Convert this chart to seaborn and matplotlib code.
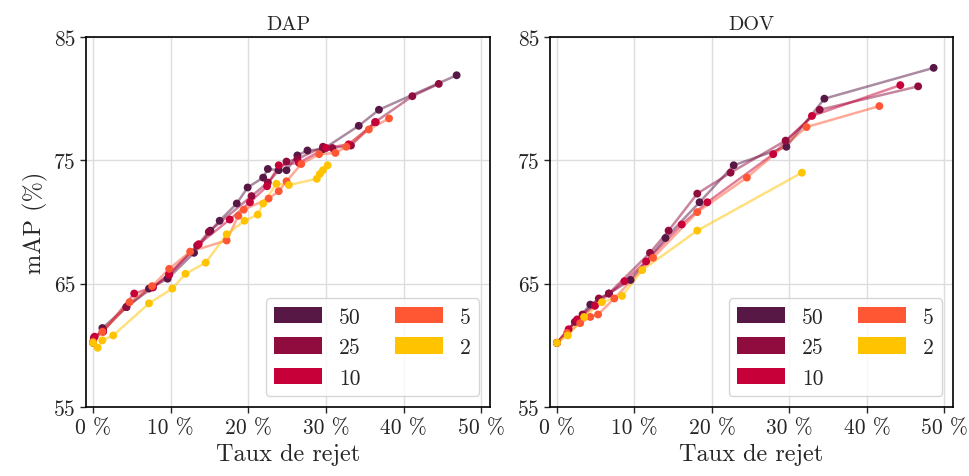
"""
Taux de rejet vs mAP pour DAP et DOV
"""

import matplotlib.pyplot as plt
import seaborn as sns
import pandas as pd
from matplotlib.patches import Patch

# Données (taux de rejet en %, mAP en %)
groupes = ['50', '25', '10', '5', '2']
couleurs = ['#581845', '#900C3F', '#C70039', '#FF5733', '#FFC300']

dap_x = {
    '50': [0, 1.2, 4.3, 7.2, 9.6, 13.0, 15.1, 16.3, 18.5, 19.9, 21.9, 22.5, 23.9, 24.9, 26.3, 27.6, 29.6, 34.2, 36.8, 46.8],
    '25': [0.1, 1.3, 4.3, 7.7, 9.8, 13.4, 14.9, 20.4, 22.5, 24.9, 26.3, 29.6, 30.8, 33.2, 36.3, 41.1, 44.5],
    '10': [0.2, 1.3, 5.3, 7.7, 9.8, 13.6, 17.6, 20.2, 22.4, 23.9, 26.5, 30.0, 32.9, 36.4],
    '5': [0, 1.2, 4.7, 7.6, 9.8, 12.5, 17.2, 18.7, 19.4, 22.6, 23.9, 24.9, 26.8, 29.1, 31.2, 32.6, 35.5, 38.1],
    '2': [0, 0.6, 1.2, 2.6, 7.2, 10.2, 11.9, 14.5, 17.2, 19.5, 21.2, 21.9, 23.6, 25.2, 28.8, 29.2, 29.6, 30.2],
}
dap_y = {
    '50': [60.2, 61.4, 63.1, 64.6, 65.4, 67.5, 69.3, 70.1, 71.5, 72.8, 73.6, 74.3, 74.2, 74.2, 75.4, 75.8, 75.9, 77.8, 79.1, 81.9],
    '25': [60.6, 61.2, 63.1, 64.7, 65.8, 68.1, 69.2, 72.1, 73.2, 74.9, 75.1, 76.1, 76.0, 76.2, 78.1, 80.2, 81.2],
    '10': [60.7, 61.1, 64.2, 64.7, 65.7, 68.2, 70.2, 71.6, 72.9, 74.6, 74.8, 76.0, 76.3, 78.1],
    '5': [60.3, 61.1, 63.5, 64.8, 66.2, 67.6, 68.5, 70.5, 71.0, 71.9, 72.5, 73.3, 74.7, 75.5, 75.6, 76.1, 77.5, 78.4],
    '2': [60.2, 59.8, 60.4, 60.8, 63.4, 64.6, 65.8, 66.7, 69.0, 70.1, 70.6, 71.5, 73.1, 73.0, 73.5, 73.9, 74.2, 74.6],
}

dov_x = {
    '50': [0, 4.3, 6.7, 9.5, 14.0, 18.4, 22.8, 29.6, 34.5, 48.6],
    '25': [0, 2.3, 3.3, 5.4, 6.7, 12.0, 14.4, 18.1, 22.4, 29.5, 33.9, 46.6],
    '10': [0, 1.5, 2.6, 4.9, 8.7, 11.5, 16.1, 19.4, 27.9, 32.9, 44.3],
    '5': [0, 1.3, 3.0, 4.3, 5.3, 7.4, 12.4, 18.1, 24.5, 32.2, 41.6],
    '2': [0, 1.4, 3.5, 5.8, 8.4, 11.0, 18.1, 31.6],
}
dov_y = {
    '50': [60.2, 63.3, 64.2, 65.3, 68.7, 71.6, 74.6, 76.1, 80.0, 82.5],
    '25': [60.2, 61.9, 62.5, 63.8, 64.2, 67.5, 69.3, 72.3, 74.0, 76.6, 79.1, 81.0],
    '10': [60.2, 61.3, 62.1, 63.2, 65.2, 66.8, 69.8, 71.6, 75.5, 78.6, 81.1],
    '5': [60.2, 61.0, 61.8, 62.3, 62.5, 63.8, 67.1, 70.8, 73.6, 77.7, 79.4],
    '2': [60.2, 60.8, 62.3, 63.5, 64.0, 66.1, 69.3, 74.0],
}


def to_long(xs, ys):
    rows = []
    for g in groupes:
        for i, (x, y) in enumerate(zip(xs[g], ys[g])):
            rows.append({'groupe': g, 'ordre': i, 'rejet': x, 'map': y})
    return pd.DataFrame(rows)


sns.set_style('white')
plt.rcParams['font.family'] = ['cmr10', 'DejaVu Serif']
plt.rcParams['mathtext.fontset'] = 'cm'
plt.rcParams['axes.unicode_minus'] = False

fig = plt.figure(figsize=(9.7, 4.77), dpi=100)
ax1 = fig.add_axes([0.0887, 0.1447, 0.4165, 0.7756])
ax2 = fig.add_axes([0.567, 0.1447, 0.4155, 0.7756])

palette = dict(zip(groupes, couleurs))
panneaux = [(ax1, 'DAP', to_long(dap_x, dap_y)), (ax2, 'DOV', to_long(dov_x, dov_y))]

for ax, titre, df in panneaux:
    sns.lineplot(data=df, x='rejet', y='map', hue='groupe', hue_order=groupes,
                 palette=palette, units='groupe', estimator=None, sort=False,
                 alpha=0.5, linewidth=1.8, legend=False, ax=ax)
    sns.scatterplot(data=df, x='rejet', y='map', hue='groupe', hue_order=groupes,
                    palette=palette, s=32, linewidth=0, legend=False, ax=ax, zorder=3)
    ax.set_xlim(-0.9, 51.1)
    ax.set_ylim(55, 85)
    ax.set_xticks([0, 10, 20, 30, 40, 50])
    ax.set_xticklabels([f'{v} %' for v in [0, 10, 20, 30, 40, 50]])
    ax.set_yticks([55, 65, 75, 85])
    ax.tick_params(labelsize=15.5, direction='out', length=4, width=1, left=True, bottom=True)
    ax.grid(True, color='#dddddd', linewidth=1)
    for s in ax.spines.values():
        s.set_color('black')
        s.set_linewidth(1.2)
    ax.set_title(titre, fontsize=14.5)
    ax.set_xlabel('Taux de rejet', fontsize=17.5)
    ax.set_ylabel('')
    handles = [Patch(facecolor=c, edgecolor='none', label=g) for g, c in zip(groupes, couleurs)]
    ax.legend(handles=handles, loc='lower right', ncol=2, fontsize=15.5,
              handlelength=2.2, handleheight=0.8, columnspacing=1.6,
              frameon=True, fancybox=True, framealpha=0.8, edgecolor='#cccccc')

ax1.set_ylabel('mAP (%)', fontsize=17.5)

fig.savefig('out.png', dpi=100)
